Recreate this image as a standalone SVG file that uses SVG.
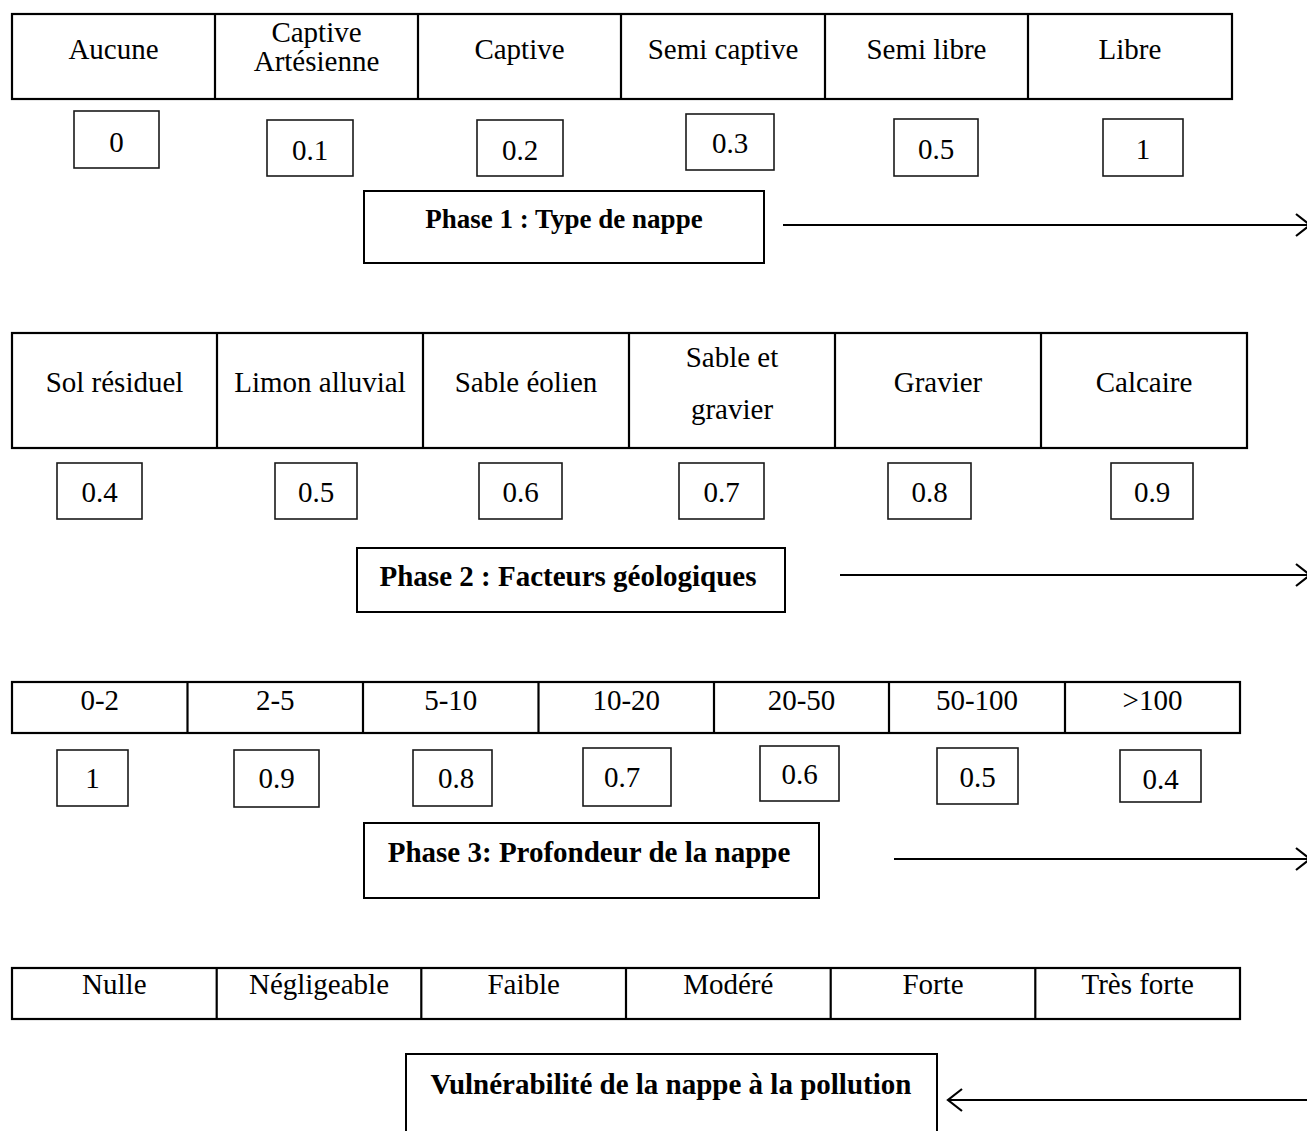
<svg xmlns="http://www.w3.org/2000/svg" width="1307" height="1131" viewBox="0 0 1307 1131">
<defs>
<style>
.tbl{fill:none;stroke:#000;stroke-width:2.2}
.val{fill:#fff;stroke:#1a1a1a;stroke-width:1.6}
.ph{fill:#fff;stroke:#000;stroke-width:2}
.t{font-family:"Liberation Serif","Times New Roman",serif;font-size:29px;fill:#000;text-anchor:middle}
.b{font-family:"Liberation Serif","Times New Roman",serif;font-size:29px;font-weight:bold;fill:#000;text-anchor:middle}
.arr{stroke:#000;stroke-width:2.2;fill:none}
</style>
<marker id="head" markerUnits="userSpaceOnUse" markerWidth="20" markerHeight="26" refX="15" refY="12" orient="auto">
<path d="M1,1 L15,12 L1,23" fill="none" stroke="#000" stroke-width="2.2"/>
</marker>
</defs>
<rect width="1307" height="1131" fill="#fff"/>

<g id="table-type-nappe">
<rect class="tbl" x="12" y="14" width="1220" height="85"/>
<path class="tbl" d="M215,14V99M418,14V99M621,14V99M825,14V99M1028,14V99"/>
<text class="t" x="113.5" y="59">Aucune</text>
<text class="t" x="316.5" y="42">Captive</text>
<text class="t" x="316.5" y="71">Artésienne</text>
<text class="t" x="519.5" y="59">Captive</text>
<text class="t" x="723" y="59">Semi captive</text>
<text class="t" x="926.5" y="59">Semi libre</text>
<text class="t" x="1130" y="59">Libre</text>
</g>
<g id="values-type-nappe">
<rect class="val" x="74" y="111" width="85" height="57"/><text class="t" x="116.5" y="152">0</text>
<rect class="val" x="267" y="120" width="86" height="56"/><text class="t" x="310" y="160">0.1</text>
<rect class="val" x="477" y="120" width="86" height="56"/><text class="t" x="520" y="160">0.2</text>
<rect class="val" x="686" y="114" width="88" height="56"/><text class="t" x="730" y="153">0.3</text>
<rect class="val" x="894" y="119" width="84" height="57"/><text class="t" x="936" y="159">0.5</text>
<rect class="val" x="1103" y="119" width="80" height="57"/><text class="t" x="1143" y="159">1</text>
</g>
<g id="phase1">
<rect class="ph" x="364" y="191" width="400" height="72"/>
<text class="b" x="564" y="228" style="font-size:27px">Phase 1 : Type de nappe</text>
</g>

<g id="table-geologie">
<rect class="tbl" x="12" y="333" width="1235" height="115"/>
<path class="tbl" d="M217,333V448M423,333V448M629,333V448M835,333V448M1041,333V448"/>
<text class="t" x="114.5" y="392">Sol résiduel</text>
<text class="t" x="320" y="392">Limon alluvial</text>
<text class="t" x="526" y="392">Sable éolien</text>
<text class="t" x="732" y="367">Sable et</text>
<text class="t" x="732" y="419">gravier</text>
<text class="t" x="938" y="392">Gravier</text>
<text class="t" x="1144" y="392">Calcaire</text>
</g>
<g id="values-geologie">
<rect class="val" x="57" y="463" width="85" height="56"/><text class="t" x="99.5" y="502">0.4</text>
<rect class="val" x="275" y="463" width="82" height="56"/><text class="t" x="316" y="502">0.5</text>
<rect class="val" x="479" y="463" width="83" height="56"/><text class="t" x="520.5" y="502">0.6</text>
<rect class="val" x="679" y="463" width="85" height="56"/><text class="t" x="721.5" y="502">0.7</text>
<rect class="val" x="888" y="463" width="83" height="56"/><text class="t" x="929.5" y="502">0.8</text>
<rect class="val" x="1111" y="463" width="82" height="56"/><text class="t" x="1152" y="502">0.9</text>
</g>
<g id="phase2">
<rect class="ph" x="357" y="548" width="428" height="64"/>
<text class="b" x="568" y="586">Phase 2 : Facteurs géologiques</text>
</g>

<g id="table-profondeur">
<rect class="tbl" x="12" y="682" width="1228" height="51"/>
<path class="tbl" d="M187.5,682V733M363,682V733M538.5,682V733M714,682V733M889,682V733M1065,682V733"/>
<text class="t" x="99.75" y="710">0-2</text>
<text class="t" x="275.25" y="710">2-5</text>
<text class="t" x="450.75" y="710">5-10</text>
<text class="t" x="626.25" y="710">10-20</text>
<text class="t" x="801.5" y="710">20-50</text>
<text class="t" x="977" y="710">50-100</text>
<text class="t" x="1152.5" y="710">&gt;100</text>
</g>
<g id="values-profondeur">
<rect class="val" x="57" y="750" width="71" height="56"/><text class="t" x="92.5" y="788">1</text>
<rect class="val" x="234" y="750" width="85" height="57"/><text class="t" x="276.5" y="788">0.9</text>
<rect class="val" x="413" y="750" width="79" height="56"/><text class="t" x="456" y="788">0.8</text>
<rect class="val" x="583" y="748" width="88" height="58"/><text class="t" x="622" y="787">0.7</text>
<rect class="val" x="760" y="746" width="79" height="55"/><text class="t" x="799.5" y="784">0.6</text>
<rect class="val" x="937" y="748" width="81" height="56"/><text class="t" x="977.5" y="787">0.5</text>
<rect class="val" x="1120" y="750" width="81" height="52"/><text class="t" x="1160.5" y="789">0.4</text>
</g>
<g id="phase3">
<rect class="ph" x="364" y="823" width="455" height="75"/>
<text class="b" x="589" y="862">Phase 3: Profondeur de la nappe</text>
</g>

<g id="table-vulnerabilite">
<rect class="tbl" x="12" y="968" width="1228" height="51"/>
<path class="tbl" d="M216.7,968V1019M421.3,968V1019M626,968V1019M830.7,968V1019M1035.3,968V1019"/>
<text class="t" x="114.3" y="994">Nulle</text>
<text class="t" x="319" y="994">Négligeable</text>
<text class="t" x="523.7" y="994">Faible</text>
<text class="t" x="728.3" y="994">Modéré</text>
<text class="t" x="933" y="994">Forte</text>
<text class="t" x="1137.7" y="994">Très forte</text>
</g>
<g id="resultat">
<rect class="ph" x="406" y="1054" width="531" height="90"/>
<text class="b" x="671" y="1094">Vulnérabilité de la nappe à la pollution</text>
</g>

<g id="connectors">
<line class="arr" x1="783" y1="225" x2="1310" y2="225" marker-end="url(#head)"/>
<line class="arr" x1="840" y1="575" x2="1310" y2="575" marker-end="url(#head)"/>
<line class="arr" x1="894" y1="859" x2="1310" y2="859" marker-end="url(#head)"/>
<line class="arr" x1="1312" y1="1100" x2="948" y2="1100" marker-end="url(#head)"/>
</g>
</svg>
